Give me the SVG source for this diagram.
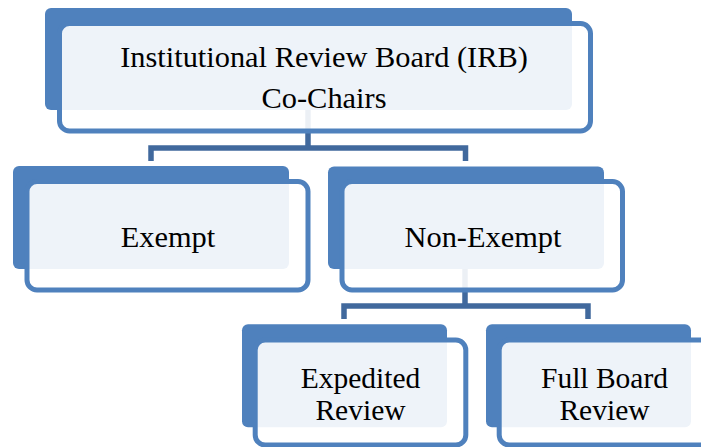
<svg xmlns="http://www.w3.org/2000/svg" width="701" height="447" viewBox="0 0 701 447">
  <style>
    .back { fill: #4F81BD; }
    .front { fill: #FFFFFF; fill-opacity: 0.9; stroke: #4F81BD; stroke-width: 5; }
    .conn { fill: none; stroke: #41699D; stroke-width: 5.5; stroke-linejoin: miter; stroke-linecap: butt; }
    .lbl { font-family: "Liberation Serif", "Times New Roman", serif; font-size: 30.4px; fill: #000000; text-anchor: middle; }
    .sm { font-size: 29.5px; }
  </style>
  <rect width="701" height="447" fill="#FFFFFF"/>
  <g id="connectors">
    <path class="conn" d="M308 110 V148 M151 161 V148 H465.5 V161"/>
    <path class="conn" d="M465 269 V306 M344 319 V306 H588 V319"/>
  </g>
  <g id="node-irb">
    <rect class="back" x="45" y="8" width="527" height="102" rx="6"/>
    <rect class="front" x="59.5" y="23.5" width="531" height="107.5" rx="10"/>
    <text class="lbl" x="324" y="67">Institutional Review Board (IRB)<tspan x="324" y="107.5">Co-Chairs</tspan></text>
  </g>
  <g id="node-exempt">
    <rect class="back" x="13" y="166" width="276" height="103" rx="6"/>
    <rect class="front" x="27" y="181.5" width="281" height="108.5" rx="10"/>
    <text class="lbl" x="168" y="247">Exempt</text>
  </g>
  <g id="node-nonexempt">
    <rect class="back" x="328" y="166.5" width="276" height="102.5" rx="6"/>
    <rect class="front" x="342" y="181.5" width="280.5" height="108.5" rx="10"/>
    <text class="lbl" x="483" y="247">Non-Exempt</text>
  </g>
  <g id="node-expedited">
    <rect class="back" x="242" y="324.3" width="205" height="103" rx="6"/>
    <rect class="front" x="255.2" y="340" width="210.6" height="105" rx="10"/>
    <text class="lbl sm" x="360.5" y="387.5">Expedited<tspan x="360.5" y="420">Review</tspan></text>
  </g>
  <g id="node-fullboard">
    <rect class="back" x="486" y="324.3" width="205" height="103" rx="6"/>
    <rect class="front" x="499.2" y="340" width="210.6" height="105" rx="10"/>
    <text class="lbl sm" x="604.5" y="387.5">Full Board<tspan x="604.5" y="420">Review</tspan></text>
  </g>
</svg>
